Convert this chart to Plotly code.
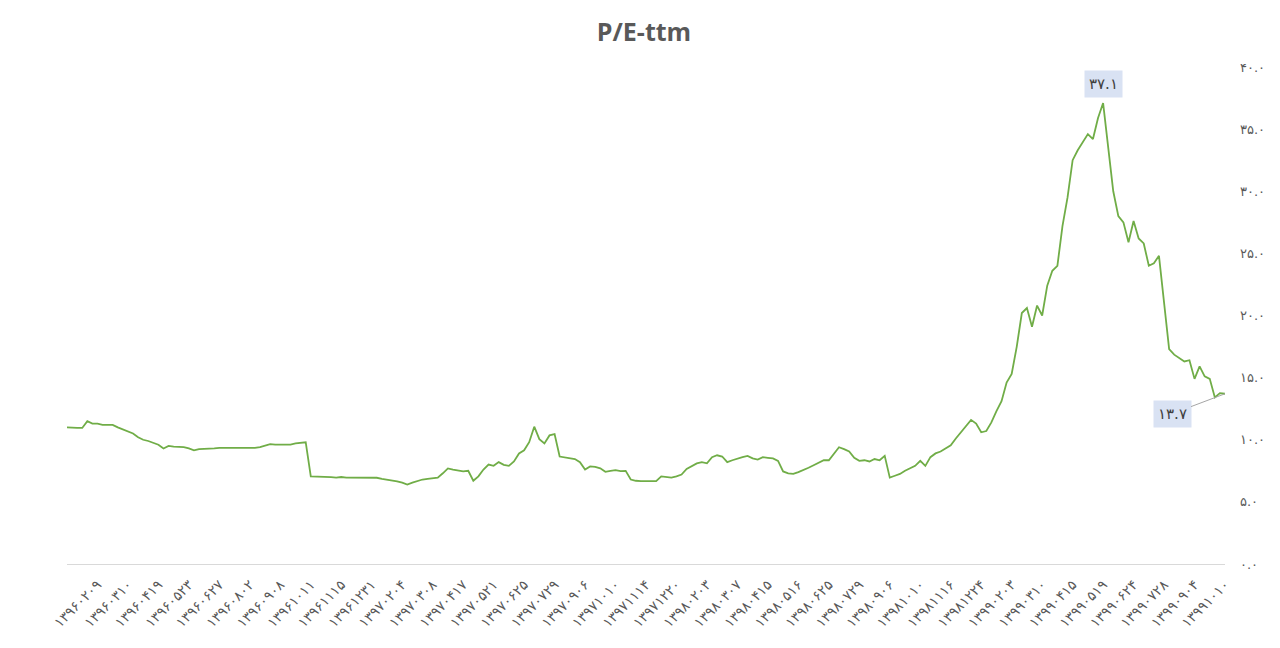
import plotly.graph_objects as go

# -----------------------------
# Data
# -----------------------------
tick_labels = [
    "۱۳۹۶۰۲۰۹", "۱۳۹۶۰۳۱۰", "۱۳۹۶۰۴۱۹", "۱۳۹۶۰۵۲۳", "۱۳۹۶۰۶۲۷", "۱۳۹۶۰۸۰۲",
    "۱۳۹۶۰۹۰۸", "۱۳۹۶۱۰۱۱", "۱۳۹۶۱۱۱۵", "۱۳۹۶۱۲۳۱", "۱۳۹۷۰۲۰۴", "۱۳۹۷۰۳۰۸",
    "۱۳۹۷۰۴۱۷", "۱۳۹۷۰۵۲۱", "۱۳۹۷۰۶۲۵", "۱۳۹۷۰۷۲۹", "۱۳۹۷۰۹۰۶", "۱۳۹۷۱۰۱۰",
    "۱۳۹۷۱۱۱۴", "۱۳۹۷۱۲۲۰", "۱۳۹۸۰۲۰۳", "۱۳۹۸۰۳۰۷", "۱۳۹۸۰۴۱۵", "۱۳۹۸۰۵۱۶",
    "۱۳۹۸۰۶۲۵", "۱۳۹۸۰۷۲۹", "۱۳۹۸۰۹۰۶", "۱۳۹۸۱۰۱۰", "۱۳۹۸۱۱۱۶", "۱۳۹۸۱۲۲۴",
    "۱۳۹۹۰۲۰۳", "۱۳۹۹۰۳۱۰", "۱۳۹۹۰۴۱۵", "۱۳۹۹۰۵۱۹", "۱۳۹۹۰۶۲۴", "۱۳۹۹۰۷۲۸",
    "۱۳۹۹۰۹۰۴", "۱۳۹۹۱۰۱۰",
]

pe_1396 = [
    11.0, 10.95, 10.95, 10.95, 11.5, 11.3, 11.3, 11.2, 11.2, 11.2,
    11.0, 10.85, 10.7, 10.5, 10.2, 10.0, 9.9, 9.75, 9.6, 9.3,
    9.5, 9.45, 9.45, 9.4, 9.3, 9.15, 9.25, 9.25, 9.3, 9.3,
    9.35, 9.35, 9.3, 9.35, 9.35, 9.3, 9.3, 9.35, 9.4, 9.5,
    9.65, 9.6, 9.6, 9.65, 9.6, 9.7, 9.75, 9.8, 7.05, 7.05,
    7.0, 7.05, 7.0, 6.95, 7.0, 6.95, 6.95, 6.95, 6.94, 6.95,
]
pe_1397 = [
    6.94, 6.94, 6.85, 6.8, 6.75, 6.65, 6.55, 6.4, 6.55, 6.67,
    6.8, 6.85, 6.88, 6.95, 7.3, 7.69, 7.6, 7.55, 7.45, 7.5,
    6.7, 7.05, 7.6, 8.0, 7.9, 8.2, 7.98, 7.9, 8.25, 8.9,
    9.15, 9.8, 11.05, 10.05, 9.7, 10.35, 10.45, 8.65, 8.6, 8.55,
    8.45, 8.2, 7.6, 7.85, 7.82, 7.7, 7.42, 7.5, 7.55, 7.48,
    7.5, 6.8, 6.7, 6.67, 6.67, 6.67, 6.67, 7.05, 7.0, 6.95,
]
pe_1398 = [
    7.05, 7.2, 7.65, 7.9, 8.1, 8.2, 8.1, 8.6, 8.75, 8.65,
    8.2, 8.35, 8.5, 8.6, 8.7, 8.5, 8.4, 8.6, 8.55, 8.5,
    8.3, 7.45, 7.3, 7.25, 7.4, 7.55, 7.75, 7.95, 8.15, 8.35,
    8.35, 8.9, 9.4, 9.25, 9.05, 8.55, 8.3, 8.35, 8.25, 8.45,
    8.35, 8.7, 6.95, 7.1, 7.25, 7.5, 7.7, 7.9, 8.3, 7.9,
    8.6, 8.9, 9.05, 9.3, 9.55,
]
pe_1399 = [
    10.1, 10.6, 11.15, 11.6, 11.3, 10.6, 10.7, 11.4, 12.3, 13.1,
    14.6, 15.3, 17.5, 20.2, 20.6, 19.1, 20.8, 20.0, 22.4, 23.6,
    24.0, 27.2, 29.5, 32.5, 33.3, 34.0, 34.6, 34.2, 35.9, 37.1,
    33.5, 30.0, 28.0, 27.5, 25.9, 27.6, 26.2, 25.8, 24.0, 24.2,
    24.8, 21.0, 17.3, 16.85, 16.6, 16.3, 16.4, 14.9, 15.9, 15.1,
    14.9, 13.4, 13.75, 13.7,
]

y_ticks = [0, 5, 10, 15, 20, 25, 30, 35, 40]
y_tick_text = ["۰.۰", "۵.۰", "۱۰.۰", "۱۵.۰", "۲۰.۰", "۲۵.۰", "۳۰.۰", "۳۵.۰", "۴۰.۰"]

peak_label = "۳۷.۱"
last_label = "۱۳.۷"

# -----------------------------
# Build series
# -----------------------------
pe = pe_1396 + pe_1397 + pe_1398 + pe_1399
x = list(range(len(pe)))
step = 6
last = len(pe) - 1
tick_vals = [last - step * (len(tick_labels) - 1 - i) for i in range(len(tick_labels))]
peak_idx = pe.index(max(pe))

grey = "#595959"
fa_font = "DejaVu Sans"

fig = go.Figure()
fig.add_scatter(x=x, y=pe, mode="lines",
                line=dict(color="#70ad47", width=1.8),
                hoverinfo="y", showlegend=False)

fig.add_annotation(x=peak_idx, y=pe[peak_idx], text=peak_label,
                   showarrow=False, yshift=19,
                   bgcolor="#d9e2f3", borderpad=4,
                   font=dict(family=fa_font, size=15, color="#404040"))
fig.add_annotation(x=last, y=pe[-1], text=last_label,
                   showarrow=True, arrowhead=0, arrowwidth=1,
                   arrowcolor="#a6a6a6", ax=-53, ay=20,
                   bgcolor="#d9e2f3", borderpad=4,
                   font=dict(family=fa_font, size=15, color="#404040"))

# page body has an 8px margin, so the figure is 8px smaller than the window
fig.update_layout(
    width=1272, height=640,
    margin=dict(l=59, r=55, t=59, b=84),
    paper_bgcolor="white", plot_bgcolor="white",
    title=dict(text="<b>P/E-ttm</b>", x=0.5, xanchor="center",
               y=0.9625, yanchor="middle", yref="container",
               font=dict(family="Open Sans", size=25, color=grey)),
    xaxis=dict(range=[0, last], tickmode="array",
               tickvals=tick_vals, ticktext=tick_labels,
               tickangle=-45, showgrid=False, zeroline=False,
               showline=True, linecolor="#d9d9d9", linewidth=1,
               ticks="", ticklabelstandoff=6, automargin=False,
               tickfont=dict(family=fa_font, size=14, color=grey)),
    yaxis=dict(range=[0, 40], side="right", tickmode="array",
               tickvals=y_ticks, ticktext=y_tick_text,
               showgrid=False, zeroline=False, showline=False,
               ticks="", ticklabelstandoff=14, automargin=False,
               tickfont=dict(family=fa_font, size=13, color=grey)),
)

fig.write_html("out.html")
